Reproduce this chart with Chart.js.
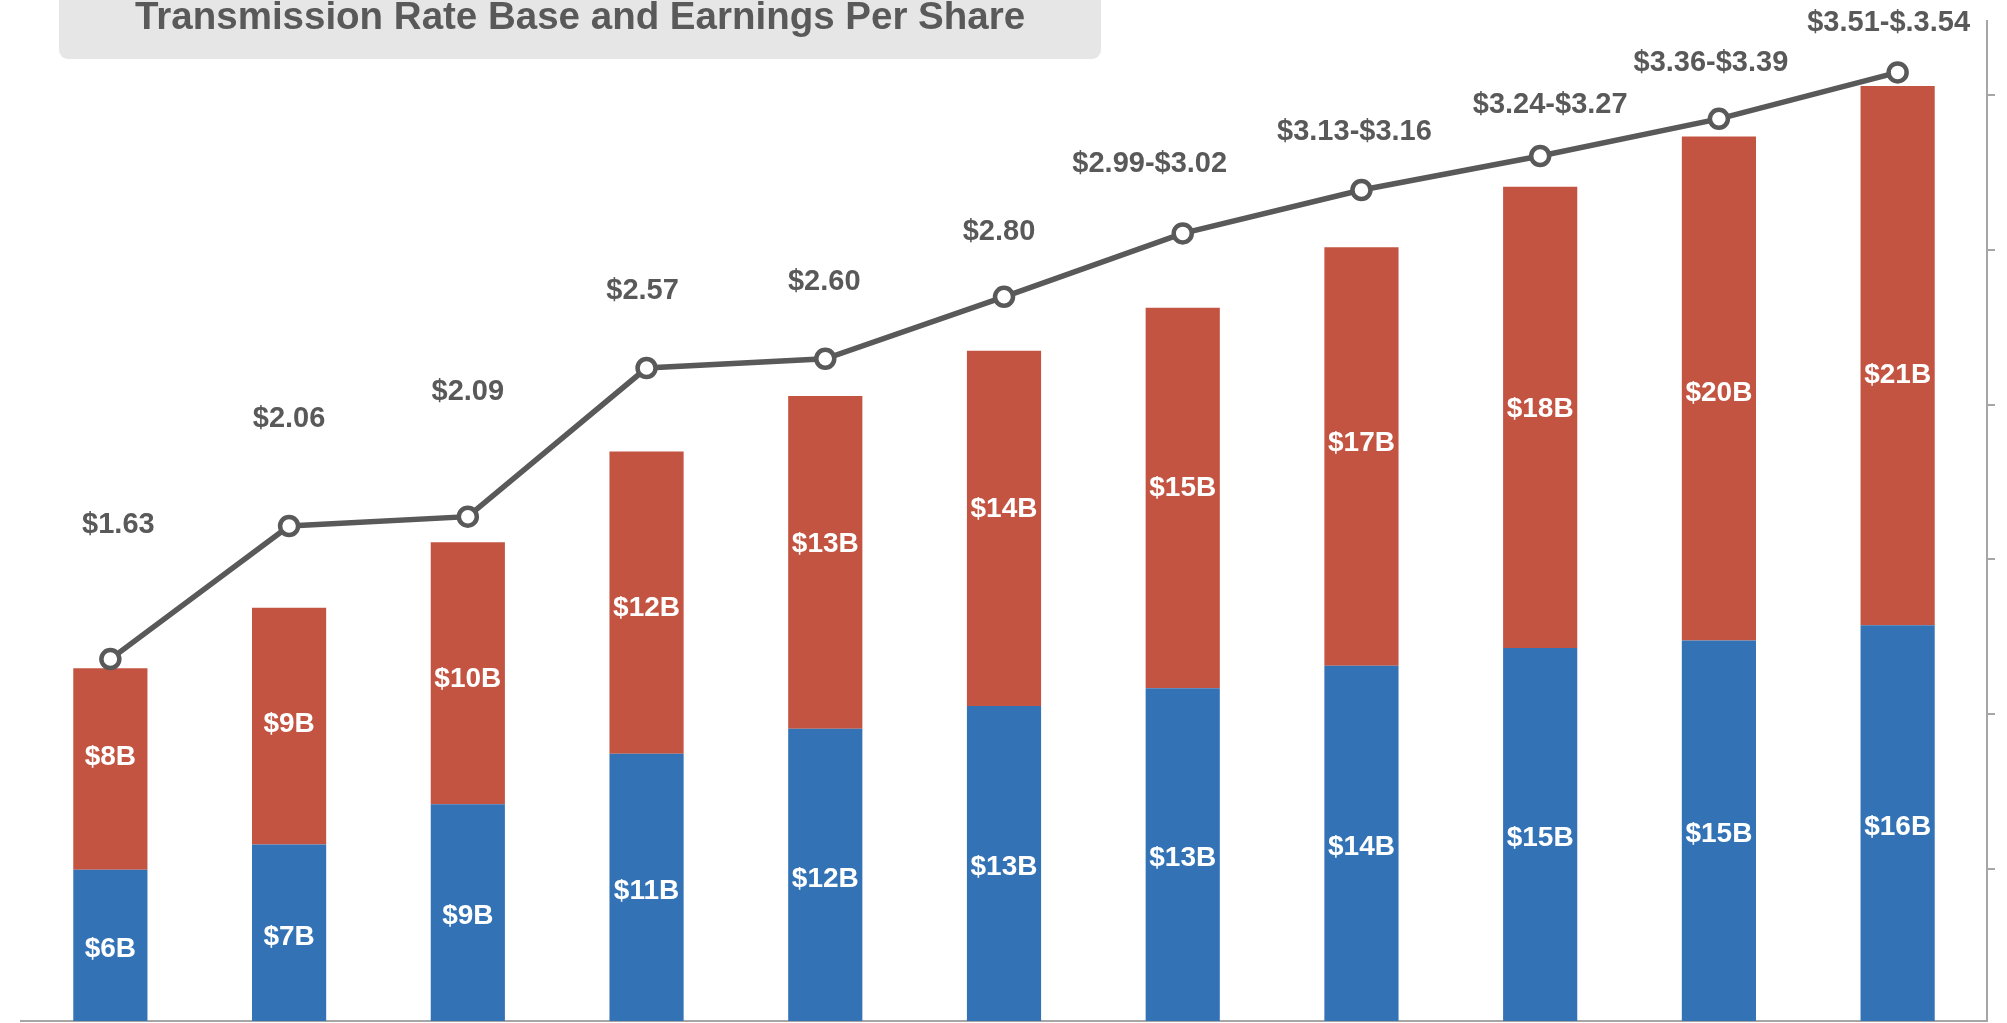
<!DOCTYPE html>
<html><head><meta charset="utf-8">
<script src="https://cdn.jsdelivr.net/npm/chart.js@4.4.1/dist/chart.umd.min.js"></script>
<style>html,body{margin:0;padding:0;background:#fff;overflow:hidden}#wrap{width:2007px;height:1023px;position:relative}</style>
</head><body><div id="wrap"><canvas id="c" width="2007" height="1023"></canvas></div>
<script>
// ---- data ----
const titleText = 'Transmission Rate Base and Earnings Per Share';
const categories = ['P1','P2','P3','P4','P5','P6','P7','P8','P9','P10','P11'];
const rateBaseBlue = [6.0, 7.0, 8.6, 10.6, 11.6, 12.5, 13.2, 14.1, 14.8, 15.1, 15.7];   // $B
const rateBaseRed  = [8.0, 9.4, 10.4, 12.0, 13.2, 14.1, 15.1, 16.6, 18.3, 20.0, 21.4];  // $B
const epsValues    = [1.63, 2.06, 2.09, 2.57, 2.60, 2.80, 3.005, 3.145, 3.255, 3.375, 3.525];
const epsLabels    = ['$1.63','$2.06','$2.09','$2.57','$2.60','$2.80','$2.99-$3.02','$3.13-$3.16','$3.24-$3.27','$3.36-$3.39','$3.51-$.3.54'];
const rightAxisTicks = [0.952, 1.452, 1.952, 2.452, 2.952, 3.452];

// ---- label placement (style, not data) ----
const epsLabelDx = [8, 0, 0, -4, -1, -5, -33, -7, 10, -8, -9];
const epsLabelDy = [-134, -107, -125, -77, -77, -65, -69, -58, -51, -56, -49];
const redLabelDy = [-12, -2, 6, 6, -18, -19, -10, -13, -8, 5, 20];
const blueLabelDy = 4;

const FONT = '"Liberation Sans", Arial, sans-serif';
const GRAY = '#595959';
const AXIS = '#a6a6a6';

const titlePlugin = {
  id: 'titleBox',
  afterDraw(chart) {
    const ctx = chart.ctx;
    ctx.save();
    ctx.fillStyle = '#e6e6e6';
    ctx.beginPath();
    ctx.roundRect(59, -20, 1042, 79, 9);
    ctx.fill();
    ctx.fillStyle = GRAY;
    ctx.font = 'bold 38.5px ' + FONT;
    ctx.textAlign = 'center';
    ctx.textBaseline = 'alphabetic';
    ctx.fillText(titleText, 580, 29);
    ctx.restore();
  }
};

const labelPlugin = {
  id: 'valueLabels',
  afterDatasetsDraw(chart) {
    const ctx = chart.ctx;
    ctx.save();
    ctx.textAlign = 'center';
    ctx.textBaseline = 'middle';
    ctx.font = 'bold 28px ' + FONT;
    ctx.fillStyle = '#ffffff';
    [0, 1].forEach(di => {
      const meta = chart.getDatasetMeta(di);
      const vals = chart.data.datasets[di].data;
      meta.data.forEach((el, i) => {
        const p = el.getProps(['x', 'y', 'base'], true);
        const dy = di === 1 ? redLabelDy[i] : blueLabelDy;
        ctx.fillText('$' + Math.round(vals[i]) + 'B', p.x, (p.y + p.base) / 2 + dy);
      });
    });
    const lm = chart.getDatasetMeta(2);
    ctx.font = 'bold 29px ' + FONT;
    ctx.fillStyle = GRAY;
    lm.data.forEach((pt, i) => {
      ctx.fillText(epsLabels[i], pt.x + epsLabelDx[i], pt.y + epsLabelDy[i]);
    });
    ctx.restore();
  }
};

new Chart(document.getElementById('c'), {
  type: 'bar',
  data: {
    labels: categories,
    datasets: [
      { label: 'Rate base A', data: rateBaseBlue, backgroundColor: '#3373b5', yAxisID: 'y', order: 2,
        barPercentage: 1, categoryPercentage: 0.415 },
      { label: 'Rate base B', data: rateBaseRed, backgroundColor: '#c35442', yAxisID: 'y', order: 2,
        barPercentage: 1, categoryPercentage: 0.415 },
      { type: 'line', label: 'EPS', data: epsValues, yAxisID: 'y2', order: 0,
        borderColor: GRAY, borderWidth: 5.5, tension: 0,
        pointRadius: 9, pointHoverRadius: 9, pointBorderWidth: 4.5,
        pointBackgroundColor: '#ffffff', pointBorderColor: GRAY }
    ]
  },
  options: {
    responsive: false,
    devicePixelRatio: 1,
    animation: false,
    layout: { autoPadding: false, padding: { left: 21, right: 12, top: 21, bottom: 2 } },
    plugins: { legend: { display: false }, tooltip: { enabled: false }, title: { display: false } },
    scales: {
      x: {
        stacked: true,
        grid: { display: false, drawTicks: false },
        ticks: { display: false },
        border: { display: true, color: AXIS, width: 2 }
      },
      y: { stacked: true, display: false, min: 0, max: 39.68 },
      y2: {
        position: 'right',
        min: 0.461, max: 3.691,
        ticks: { display: false },
        grid: { drawOnChartArea: false, drawTicks: true, tickLength: 8, color: AXIS, lineWidth: 2 },
        border: { display: true, color: AXIS, width: 2 },
        afterBuildTicks: s => { s.ticks = rightAxisTicks.map(v => ({ value: v })); }
      }
    }
  },
  plugins: [titlePlugin, labelPlugin]
});
</script>
</body></html>
